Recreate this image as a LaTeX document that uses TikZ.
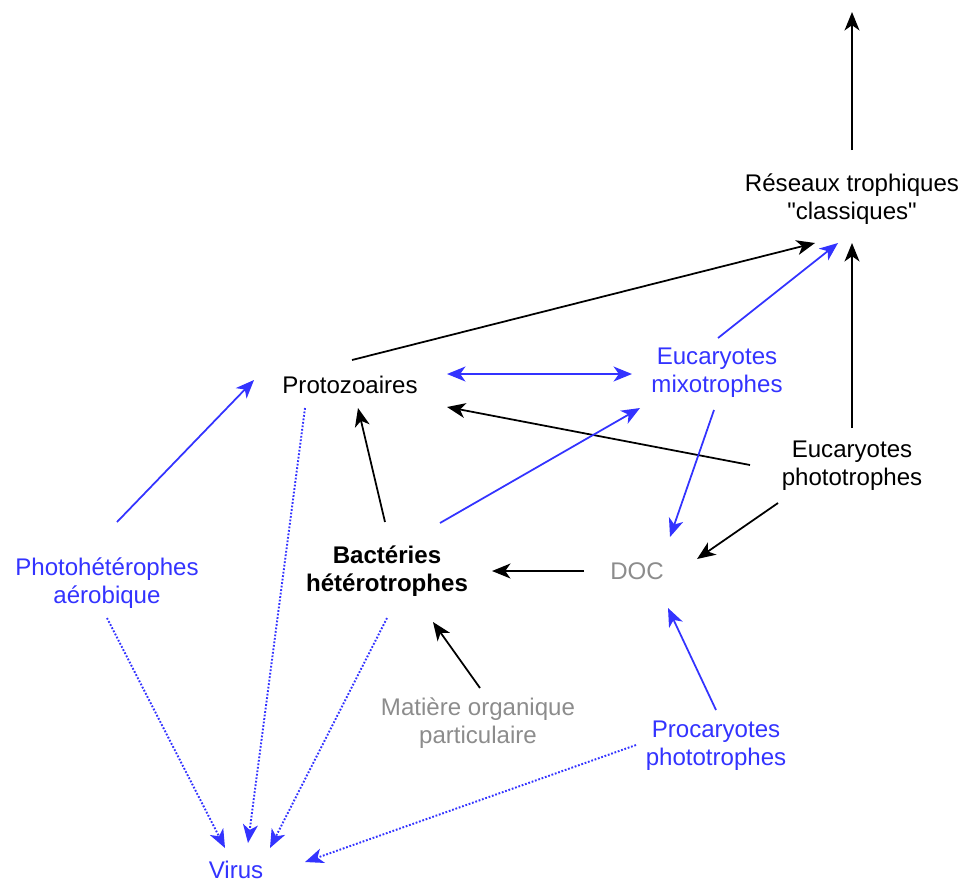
\documentclass[tikz,border=0pt]{standalone}
\usepackage{xcolor}
\usepackage{fontspec}
\setmainfont{Liberation Sans}
\usepackage{tikz}
\usetikzlibrary{arrows.meta,calc}
\definecolor{reseaublue}{RGB}{51, 51, 255}
\definecolor{reseaugray}{RGB}{140, 140, 140}
\tikzset{
  lbl/.style={align=center, inner sep=0pt, font=\fontsize{13.7}{15.9}\selectfont},
  pointe/.tip={Stealth[length=10.5pt,width=8.5pt,inset=3pt]},
  fleche/.style={line width=1pt, -pointe},
  virale/.style={fleche, reseaublue, densely dotted, line width=1.1pt}
}

\begin{document}
\begin{tikzpicture}[x=0.02cm, y=-0.02cm]
  \useasboundingbox (0,0) rectangle (962,883);

  \node[lbl] (reseaux) at (852,199) {Réseaux trophiques\\\textquotedbl classiques\textquotedbl};
  \coordinate (sortie) at (852,12);
  \node[lbl] (proto) at (350,385) {Protozoaires};
  \node[lbl, reseaublue] (mixo) at (717,373) {Eucaryotes\\mixotrophes};
  \node[lbl] (photo) at (852,466) {Eucaryotes\\phototrophes};
  \node[lbl, font=\fontsize{13.7}{15.9}\selectfont\bfseries] (bact) at (387,571) {Bactéries\\hétérotrophes};
  \node[lbl, reseaugray] (doc) at (637,571) {DOC};
  \node[lbl, reseaublue] (photohet) at (107,583) {Photohétérophes\\aérobique};
  \node[lbl, reseaugray] (mop) at (478,723) {Matière organique\\particulaire};
  \node[lbl, reseaublue] (proca) at (716,746) {Procaryotes\\phototrophes};
  \node[lbl, reseaublue] (virus) at (236,870) {Virus};

  % vers le haut
  \draw[fleche] ($(reseaux)+(0,-49)$) -- (sortie);
  \draw[fleche] ($(proto)+(2,-25)$) -- ($(reseaux)+(-37,44)$);
  \draw[fleche, reseaublue] ($(mixo)+(1,-35)$) -- ($(reseaux)+(-14,44)$);
  \draw[fleche] ($(photo)+(0,-38)$) -- ($(reseaux)+(0,44)$);

  % milieu
  \draw[fleche, reseaublue, pointe-pointe] ($(proto)+(97,-11)$) -- ($(mixo)+(-85,1)$);
  \draw[fleche] ($(photo)+(-102,-1)$) -- ($(proto)+(97,22)$);
  \draw[fleche] ($(bact)+(-2,-49)$) -- ($(proto)+(8,23)$);
  \draw[fleche, reseaublue] ($(bact)+(53,-48)$) -- ($(mixo)+(-77,35)$);
  \draw[fleche, reseaublue] ($(mixo)+(-3,37)$) -- ($(doc)+(33,-34)$);
  \draw[fleche] ($(photo)+(-74,37)$) -- ($(doc)+(60,-12)$);
  \draw[fleche] ($(doc)+(-53,0)$) -- ($(bact)+(105,0)$);
  \draw[fleche] ($(mop)+(2,-35)$) -- ($(bact)+(46,51)$);
  \draw[fleche, reseaublue] ($(proca)+(0,-36)$) -- ($(doc)+(31,37)$);
  \draw[fleche, reseaublue] ($(photohet)+(10,-61)$) -- ($(proto)+(-96,-5)$);

  % virus
  \draw[virale] ($(photohet)+(0,35)$) -- ($(virus)+(-11,-22)$);
  \draw[virale] ($(proto)+(-45,23)$) -- ($(virus)+(12,-27)$);
  \draw[virale] ($(bact)+(0,47)$) -- ($(virus)+(34,-22)$);
  \draw[virale] ($(proca)+(-80,-1)$) -- ($(virus)+(69,-8)$);
\end{tikzpicture}
\end{document}
